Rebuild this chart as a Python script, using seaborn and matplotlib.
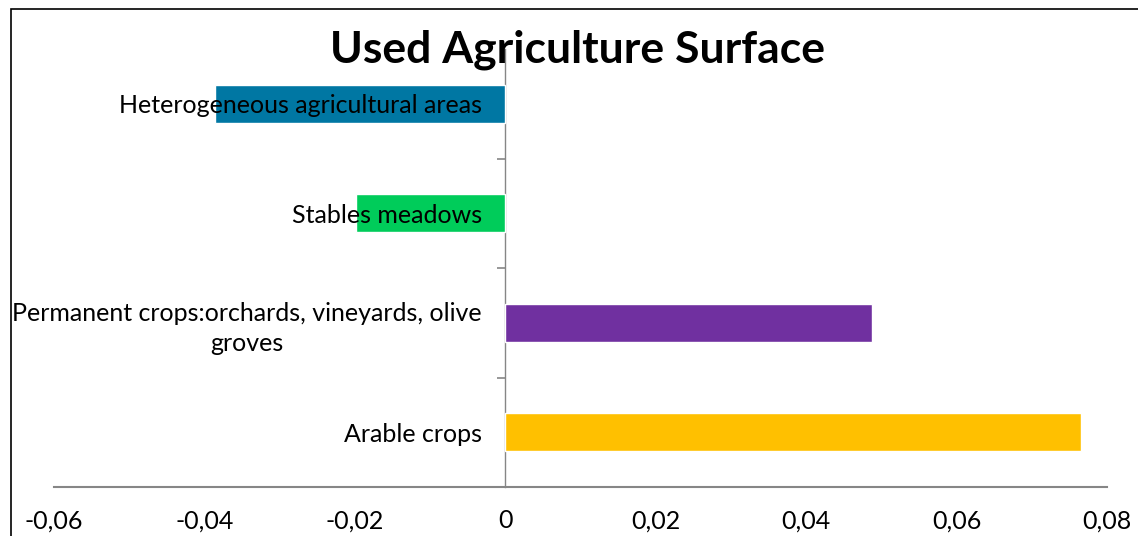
import matplotlib
matplotlib.use("Agg")
import matplotlib.pyplot as plt
import matplotlib.ticker as mticker
from matplotlib.patches import Rectangle
import seaborn as sns
import pandas as pd

categories = ["Heterogeneous agricultural areas",
              "Stables meadows",
              "Permanent crops:orchards, vineyards, olive\ngroves",
              "Arable crops"]
values = [-0.0386, -0.0198, 0.0487, 0.0765]
colors = ["#0077A3", "#00CC5A", "#7030A0", "#FFC000"]
xticks = [-0.06, -0.04, -0.02, 0, 0.02, 0.04, 0.06, 0.08]
title = "Used Agriculture Surface"

sns.set_theme(style="white")
plt.rcParams["font.family"] = ["Lato", "DejaVu Sans"]

df = pd.DataFrame({"category": categories, "value": values})

W, H = 1138, 536
fig = plt.figure(figsize=(W / 100, H / 100), dpi=100)
ax = fig.add_axes([54 / W, 1 - 487 / H, (1107 - 54) / W, (487 - 49) / H])

sns.barplot(data=df, x="value", y="category", hue="category",
            palette=colors, orient="h", width=0.35, ax=ax,
            legend=False, saturation=1)

ax.set_xlim(xticks[0], xticks[-1])
ax.set_ylim(len(categories) - 0.5, -0.5)
ax.set_xticks(xticks)
ax.xaxis.set_major_formatter(mticker.FuncFormatter(
    lambda v, p: "0" if abs(v) < 1e-12 else f"{v:.2f}".replace(".", ",")))
ax.tick_params(axis="x", length=0, pad=16, labelsize=18, colors="black")
ax.set_xlabel("")
ax.set_ylabel("")

for s in ["top", "right"]:
    ax.spines[s].set_visible(False)
ax.spines["bottom"].set_color("#868686")
ax.spines["bottom"].set_linewidth(1.5)
ax.spines["left"].set_position(("data", 0))
ax.spines["left"].set_color("#868686")
ax.spines["left"].set_linewidth(1.0)
ax.spines["left"].set_zorder(0.5)

ax.set_yticks(range(len(categories)))
ax.set_yticklabels(categories, multialignment="center", linespacing=1.4)
ax.set_yticks([0.5, 1.5, 2.5], minor=True)
ax.tick_params(axis="y", which="major", length=0, pad=17, labelsize=18,
               colors="black")
ax.tick_params(axis="y", which="minor", length=6, width=1.2,
               color="#868686", left=True)
for lab in ax.get_yticklabels():
    lab.set_zorder(5)
ax.set_axisbelow(False)

fig.text(578 / W, 1 - 50 / H, title, ha="center", va="center",
         fontsize=32, fontweight="bold", color="black")

fig.patches.append(Rectangle((11 / W, -0.1), 1.2, 1 - 9 / H + 0.1,
                             transform=fig.transFigure, fill=False,
                             edgecolor="black", linewidth=1.2))

fig.savefig("out.png", dpi=100)
